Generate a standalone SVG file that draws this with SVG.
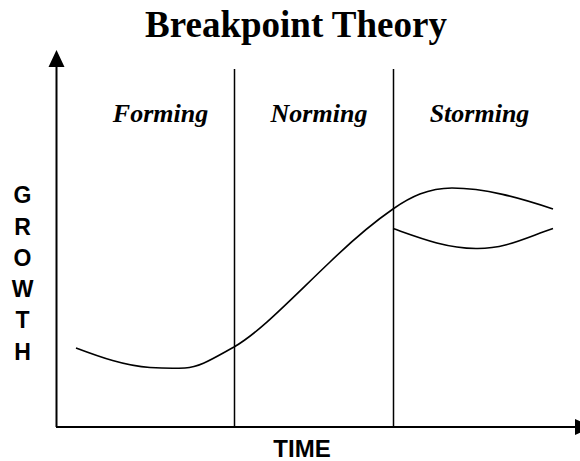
<svg xmlns="http://www.w3.org/2000/svg" width="580" height="461" viewBox="0 0 580 461">
<style>
.title{font-family:"Liberation Serif","Times New Roman",serif;font-weight:bold;font-size:37px;fill:#000}
.phase{font-family:"Liberation Serif","Times New Roman",serif;font-weight:bold;font-style:italic;font-size:26px;fill:#000}
.axis{font-family:"Liberation Sans",Arial,sans-serif;font-weight:bold;font-size:23px;fill:#000}
.ln{stroke:#000;stroke-width:1.5;fill:none}
.ax{stroke:#000;stroke-width:2;fill:none}
.cv{stroke:#000;stroke-width:1.6;fill:none}
</style>
<rect width="580" height="461" fill="#fff"/>
<text class="title" x="296" y="37" text-anchor="middle">Breakpoint Theory</text>
<g id="axes">
<line class="ax" x1="56.5" y1="427" x2="56.5" y2="64"/>
<polygon points="56.5,50 48.5,67 64.5,67" fill="#000"/>
<line class="ax" x1="56" y1="427" x2="578" y2="427"/>
<polygon points="592,427 575,419 575,435" fill="#000"/>
</g>
<g id="dividers">
<line class="ln" x1="234.5" y1="69" x2="234.5" y2="427"/>
<line class="ln" x1="393.5" y1="69" x2="393.5" y2="427"/>
</g>
<g id="phase-forming"><text class="phase" x="160.5" y="122" text-anchor="middle">Forming</text></g>
<g id="phase-norming"><text class="phase" x="319" y="122" text-anchor="middle">Norming</text></g>
<g id="phase-storming"><text class="phase" x="479.5" y="122" text-anchor="middle">Storming</text></g>
<g id="curves">
<path class="cv" d="M76,348 C100,357 125,366 150,367.5 C165,368.5 175,368.5 185,368 C200,367 212,359 234,347 C260,332 290,300 330,262 C360,233 377,220 393,209 C410,197.3 428,188 452,188 C485,188 520,198 553,209"/>
<path class="cv" d="M393,228.5 C420,238 445,248 476,248.5 C505,249 525,238 553,228.5"/>
</g>
<g id="ylabel">
<text class="axis" x="22.5" y="203" text-anchor="middle">G</text>
<text class="axis" x="22.5" y="235" text-anchor="middle">R</text>
<text class="axis" x="22.5" y="266" text-anchor="middle">O</text>
<text class="axis" x="22.5" y="297" text-anchor="middle">W</text>
<text class="axis" x="22.5" y="328" text-anchor="middle">T</text>
<text class="axis" x="22.5" y="360" text-anchor="middle">H</text>
</g>
<g id="xlabel"><text class="axis" x="302" y="457" text-anchor="middle" style="font-size:24px">TIME</text></g>
</svg>
